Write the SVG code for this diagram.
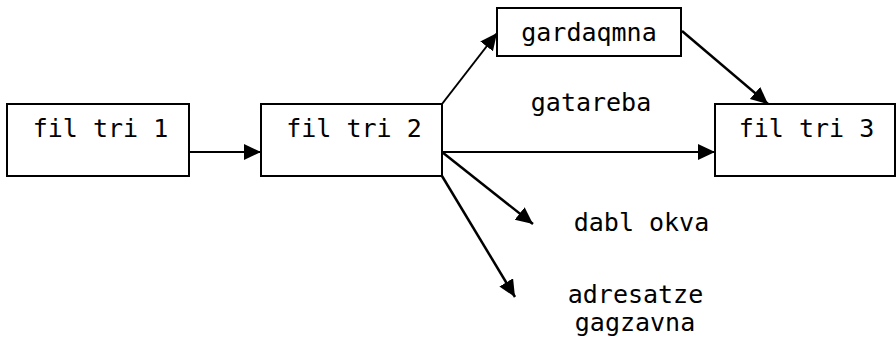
<svg xmlns="http://www.w3.org/2000/svg" width="896" height="344" viewBox="0 0 896 344">
<style>
.box{fill:#fff;stroke:#000;stroke-width:2}
.t{font-family:"DejaVu Sans Mono","Liberation Mono",monospace;font-size:25px;fill:#000;text-anchor:middle}
.c{stroke:#000;stroke-width:2;fill:none;marker-end:url(#ah)}
</style>
<defs>
<marker id="ah" markerUnits="userSpaceOnUse" markerWidth="19" markerHeight="18" refX="17" refY="8" orient="auto">
<path d="M0,0 L17,8 L0,16 z" fill="#000"/>
</marker>
</defs>
<rect width="896" height="344" fill="#fff"/>
<g id="n1"><rect class="box" x="7" y="104" width="182" height="72"/><text class="t" x="100.5" y="137">fil tri 1</text></g>
<g id="n2"><rect class="box" x="261" y="104" width="181" height="72"/><text class="t" x="354" y="137">fil tri 2</text></g>
<g id="n3"><rect class="box" x="715" y="104" width="180" height="72"/><text class="t" x="806.5" y="137">fil tri 3</text></g>
<g id="n4"><rect class="box" x="497" y="8" width="184" height="48"/><text class="t" x="589" y="41">gardaqmna</text></g>
<g id="l1"><text class="t" x="591" y="111">gatareba</text></g>
<g id="l2"><text class="t" x="641.5" y="231">dabl okva</text></g>
<g id="l3"><text class="t" x="635.5" y="303">adresatze</text><text class="t" x="635" y="331">gagzavna</text></g>
<g id="connectors">
<line class="c" x1="189" y1="152" x2="261" y2="152"/>
<line class="c" x1="442" y1="104" x2="497" y2="33"/>
<line class="c" x1="682" y1="31" x2="768" y2="104" style="stroke-width:2.5"/>
<line class="c" x1="442" y1="152" x2="715" y2="152"/>
<line class="c" x1="442" y1="152" x2="533" y2="224" style="stroke-width:2.5"/>
<line class="c" x1="442" y1="176" x2="515" y2="297" style="stroke-width:2.5"/>
</g>
</svg>
